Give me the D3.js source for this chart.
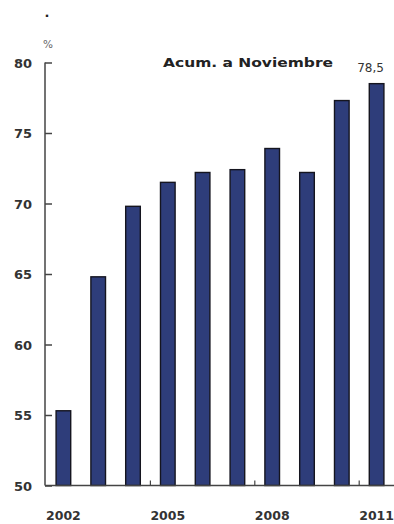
<!DOCTYPE html>
<html><head><meta charset="utf-8">
<script src="https://cdn.jsdelivr.net/npm/d3@7"></script>
<style>html,body{margin:0;padding:0;background:#fff;}</style>
</head><body>
<script>
const years = [2002,2003,2004,2005,2006,2007,2008,2009,2010,2011];
const values = [55.3,64.8,69.8,71.5,72.2,72.4,73.9,72.2,77.3,78.5];
const yTicks = [50,55,60,65,70,75,80];
const xLabels = [2002,2005,2008,2011];
const groupEnds = [2004,2007,2010];

const W=394,H=524;
const svg=d3.select("body").append("svg").attr("width",W).attr("height",H);
const x=d3.scaleBand().domain(years).range([46,394]).paddingInner(0.58).paddingOuter(0.29);
const y=d3.scaleLinear().domain([50,80]).range([485.5,62.5]);
const font="'DejaVu Sans', sans-serif";

// bars
svg.selectAll("rect.bar").data(years).enter().append("rect")
  .attr("x",d=>x(d)).attr("width",x.bandwidth())
  .attr("y",(d,i)=>y(values[i])).attr("height",(d,i)=>y(50)-y(values[i]))
  .attr("fill","#2e3d7a").attr("stroke","#15151f").attr("stroke-width",1.4);

// y axis
const yAxis=d3.axisRight(y).tickValues(yTicks).tickSize(7).tickFormat("");
const ga=svg.append("g").attr("transform","translate(45,0)").call(yAxis);
ga.selectAll("path,line").attr("stroke","#444").attr("stroke-width",1.5);
ga.select(".domain").attr("d","M0,"+(y(80))+"V"+y(50));
svg.selectAll("text.ylab").data(yTicks).enter().append("text")
  .attr("x",32).attr("y",d=>y(d)+5).attr("text-anchor","end")
  .attr("font-family",font).attr("font-weight","bold").attr("font-size",13).attr("fill","#333")
  .text(d=>d);

// x axis
svg.append("line").attr("x1",45).attr("x2",394).attr("y1",y(50)).attr("y2",y(50))
  .attr("stroke","#444").attr("stroke-width",1.5);
svg.selectAll("line.gt").data(groupEnds).enter().append("line")
  .attr("x1",d=>x(d)+x.bandwidth()/2+x.step()/2).attr("x2",d=>x(d)+x.bandwidth()/2+x.step()/2)
  .attr("y1",y(50)).attr("y2",y(50)-5).attr("stroke","#444").attr("stroke-width",1.2);
svg.selectAll("text.xlab").data(xLabels).enter().append("text")
  .attr("x",d=>x(d)+x.bandwidth()/2).attr("y",520).attr("text-anchor","middle")
  .attr("font-family",font).attr("font-weight","bold").attr("font-size",12.5).attr("fill","#333")
  .text(d=>d);

// annotations
svg.append("text").attr("x",48).attr("y",48).attr("text-anchor","middle")
  .attr("font-family",font).attr("font-size",10.5).attr("fill","#666").text("%");
svg.append("text").attr("x",47).attr("y",17).attr("text-anchor","middle")
  .attr("font-family",font).attr("font-weight","bold").attr("font-size",13).attr("fill","#222").text(".");
svg.append("text").attr("x",163).attr("y",67)
  .attr("textLength",170).attr("lengthAdjust","spacingAndGlyphs")
  .attr("font-family",font).attr("font-weight","bold").attr("font-size",13).attr("fill","#222").text("Acum. a Noviembre");
svg.append("text").attr("x",x(2011)+x.bandwidth()/2-6).attr("y",72).attr("text-anchor","middle")
  .attr("font-family",font).attr("font-size",12).attr("fill","#333").text("78,5");
</script>
</body></html>
